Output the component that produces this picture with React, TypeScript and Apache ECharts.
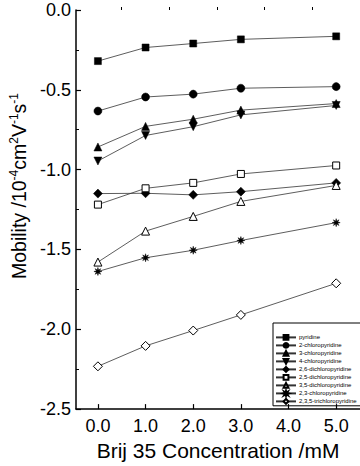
import React, { useEffect, useRef } from "react";
import * as echarts from "echarts";

const concentrations = [0, 1, 2, 3, 5];
const seriesNames = [
  "pyridine",
  "2-chloropyridine",
  "3-chloropyridine",
  "4-chloropyridine",
  "2,6-dichloropyridine",
  "2,5-dichloropyridine",
  "3,5-dichloropyridine",
  "2,3-chloropyridine",
  "2,3,5-trichloropyridine",
];
const pyridine = [-0.32, -0.235, -0.21, -0.184, -0.165];
const chloro2 = [-0.633, -0.545, -0.527, -0.49, -0.48];
const chloro3 = [-0.858, -0.729, -0.684, -0.627, -0.586];
const chloro4 = [-0.946, -0.786, -0.731, -0.657, -0.598];
const dichloro26 = [-1.15, -1.148, -1.158, -1.138, -1.083];
const dichloro25 = [-1.219, -1.117, -1.083, -1.027, -0.974];
const dichloro35 = [-1.579, -1.385, -1.293, -1.199, -1.099];
const chloro23 = [-1.638, -1.552, -1.505, -1.444, -1.332];
const trichloro235 = [-2.232, -2.104, -2.008, -1.91, -1.712];
const xTickLabels = [0, 1, 2, 3, 4, 5];
const xMinorTicks = [0.5, 1.5, 2.5, 3.5, 4.5];

const FONT = "'Liberation Sans', Arial, Helvetica, sans-serif";
const STAR =
  "path://M5,0 L5.77,3.15 L8.54,1.46 L6.85,4.23 L10,5 L6.85,5.77 L8.54,8.54 L5.77,6.85 L5,10 L4.23,6.85 L1.46,8.54 L3.15,5.77 L0,5 L3.15,4.23 L1.46,1.46 L4.23,3.15 Z";
const TRI_DOWN = "path://M0,0 L10,0 L5,10 Z";

export default function App() {
  const ref = useRef<HTMLDivElement>(null);
  useEffect(() => {
    if (!ref.current) return;
    const chart = echarts.init(ref.current, null, { renderer: "svg" });
    const allValues = [
      pyridine,
      chloro2,
      chloro3,
      chloro4,
      dichloro26,
      dichloro25,
      dichloro35,
      chloro23,
      trichloro235,
    ];
    const symbols: [string, number, boolean][] = [
      ["rect", 7, true],
      ["circle", 8, true],
      ["triangle", 8, true],
      [TRI_DOWN, 8, true],
      ["diamond", 9, true],
      ["rect", 7, false],
      ["triangle", 8, false],
      [STAR, 8, true],
      ["diamond", 9, false],
    ];
    const series = seriesNames.map((name, i) => ({
      type: "line",
      name,
      xAxisIndex: 0,
      yAxisIndex: 0,
      data: concentrations.map((c, j) => [c, allValues[i][j]]),
      symbol: symbols[i][0],
      symbolSize: symbols[i][1],
      showAllSymbol: true,
      lineStyle: { color: "#333", width: 0.8 },
      itemStyle: symbols[i][2]
        ? { color: "#000", borderColor: "#000", borderWidth: 0.5 }
        : { color: "#fff", borderColor: "#000", borderWidth: 1 },
      emphasis: { disabled: true },
    }));
    chart.setOption({
      animation: false,
      grid: { left: 76, right: 0, top: 10, bottom: 47, containLabel: false },
      xAxis: [
        {
          type: "value",
          min: -0.46,
          max: 5.5,
          position: "bottom",
          axisLine: { show: true, onZero: false, lineStyle: { color: "#000", width: 1.5 } },
          axisTick: {
            show: true,
            inside: true,
            length: 5,
            customValues: xTickLabels,
            lineStyle: { color: "#000", width: 1.2 },
          },
          axisLabel: {
            customValues: xTickLabels,
            formatter: (v: number) => v.toFixed(1),
            color: "#000",
            fontSize: 18,
            fontFamily: FONT,
            margin: 8,
          },
          splitLine: { show: false },
          name: "Brij 35 Concentration /mM",
          nameLocation: "middle",
          nameGap: 25,
          nameTextStyle: { color: "#000", fontSize: 21, fontFamily: FONT },
        },
        {
          type: "value",
          min: -0.46,
          max: 5.5,
          position: "bottom",
          offset: 0,
          axisLine: { show: false },
          axisTick: {
            show: true,
            inside: true,
            length: 3,
            customValues: xMinorTicks,
            lineStyle: { color: "#000", width: 1 },
          },
          axisLabel: { show: false },
          splitLine: { show: false },
        },
      ],
      yAxis: {
        type: "value",
        min: -2.5,
        max: 0,
        interval: 0.5,
        axisLine: { show: true, onZero: false, lineStyle: { color: "#000", width: 1.5 } },
        axisTick: { show: true, inside: true, length: 5, lineStyle: { color: "#000", width: 1.2 } },
        minorTick: { show: true, splitNumber: 2, length: 3, lineStyle: { color: "#000", width: 1 } },
        axisLabel: {
          formatter: (v: number) => v.toFixed(1),
          color: "#000",
          fontSize: 18,
          fontFamily: FONT,
          margin: 5,
        },
        splitLine: { show: false },
        minorSplitLine: { show: false },
      },
      legend: {
        data: seriesNames,
        orient: "vertical",
        left: 273,
        top: 323,
        padding: [11, 6, 1, 2],
        itemWidth: 20,
        itemHeight: 6,
        itemGap: 1.2,
        borderColor: "#000",
        borderWidth: 1,
        textStyle: {
          color: "#000",
          fontSize: 6,
          lineHeight: 6,
          fontFamily: FONT,
          padding: [0, 0, 0, -2],
        },
        selectedMode: false,
      },
      graphic: [
        {
          type: "text",
          x: 19,
          y: 186,
          rotation: Math.PI / 2,
          style: {
            text: "Mobility /10{sup|-4}cm{sup|2}V{sup|-1}s{sup|-1}",
            fill: "#000",
            fontSize: 19.5,
            lineHeight: 21,
            fontFamily: FONT,
            align: "center",
            verticalAlign: "middle",
            rich: {
              sup: {
                fontSize: 12,
                lineHeight: 12,
                verticalAlign: "bottom",
                padding: [0, 0, 10, 0],
                fill: "#000",
                fontFamily: FONT,
              },
            },
          },
        },
      ],
      series,
    });
    return () => chart.dispose();
  }, []);
  return <div ref={ref} style={{ width: 360, height: 466, position: "absolute", left: 0, top: 0 }} />;
}
